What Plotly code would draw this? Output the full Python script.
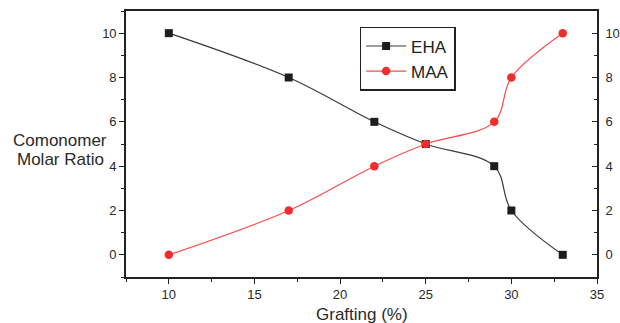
import plotly.graph_objects as go

grafting_eha = [10, 17, 22, 25, 29, 30, 33]
eha = [10, 8, 6, 5, 4, 2, 0]
grafting_maa = [10, 17, 22, 25, 29, 30, 33]
maa = [0, 2, 4, 5, 6, 8, 10]
x_ticks = [10, 15, 20, 25, 30, 35]
y_ticks = [0, 2, 4, 6, 8, 10]

FONT = "Arial, Liberation Sans, sans-serif"

fig = go.Figure()
fig.add_trace(go.Scatter(
    x=grafting_eha, y=eha, name="EHA", mode="lines+markers",
    line=dict(color="#3a3a3a", width=1.2, shape="spline", smoothing=1.0),
    marker=dict(symbol="square", size=8, color="#1e1e1e"),
))
fig.add_trace(go.Scatter(
    x=grafting_maa, y=maa, name="MAA", mode="lines+markers",
    line=dict(color="#ff4a4a", width=1.2, shape="spline", smoothing=1.0),
    marker=dict(symbol="circle", size=8.5, color="#f02c2c"),
))
# invisible trace to carry the right axis
fig.add_trace(go.Scatter(x=grafting_eha, y=eha, yaxis="y2", mode="none",
                         showlegend=False, hoverinfo="skip"))

axis_common = dict(
    showgrid=False, zeroline=False, showline=True, linecolor="#222222",
    linewidth=1.6, ticklen=5, tickwidth=1.4, tickcolor="#222222",
    tickfont=dict(family=FONT, size=13, color="#2a2a2a"), automargin=False,
)

fig.update_layout(
    width=620, height=323,
    margin=dict(l=126, r=23, t=11, b=46),
    paper_bgcolor="white", plot_bgcolor="white",
    xaxis=dict(range=[7.5, 35], tickvals=x_ticks, mirror=True, ticks="outside",
               minor=dict(ticks="outside", ticklen=3, tickwidth=1.2, dtick=2.5, tickcolor="#222222"),
               **axis_common),
    yaxis=dict(range=[-1, 11], tickvals=y_ticks, ticks="outside",
               minor=dict(ticks="outside", ticklen=3, tickwidth=1.2, dtick=1, tickcolor="#222222"),
               **axis_common),
    yaxis2=dict(range=[-1, 11], tickvals=y_ticks, overlaying="y", side="right",
                ticks="inside", ticklabelstandoff=4,
                minor=dict(ticks="inside", ticklen=3, tickwidth=1.2, dtick=1, tickcolor="#222222"),
                **axis_common),
    legend=dict(x=0.496, y=0.94, xanchor="left", yanchor="top",
                bgcolor="white", bordercolor="#222222", borderwidth=1.5,
                font=dict(family=FONT, size=17, color="#222222"),
                tracegroupgap=0, itemwidth=40),
    showlegend=True,
    annotations=[
        dict(text="Comonomer", xref="paper", yref="paper",
             x=-0.14, y=0.513, xanchor="center", yanchor="middle", showarrow=False,
             font=dict(family=FONT, size=17, color="#2a2a2a")),
        dict(text="Molar Ratio", xref="paper", yref="paper",
             x=-0.14, y=0.44, xanchor="center", yanchor="middle", showarrow=False,
             font=dict(family=FONT, size=17, color="#2a2a2a")),
        dict(text="Grafting (%)", xref="paper", yref="paper",
             x=0.5, y=-0.14, xanchor="center", yanchor="middle", showarrow=False,
             font=dict(family=FONT, size=17, color="#2a2a2a")),
    ],
)

fig.write_html(
    "out.html",
    config={"displayModeBar": False},
    post_script="document.body.style.margin='0';document.body.style.overflow='hidden';",
)
